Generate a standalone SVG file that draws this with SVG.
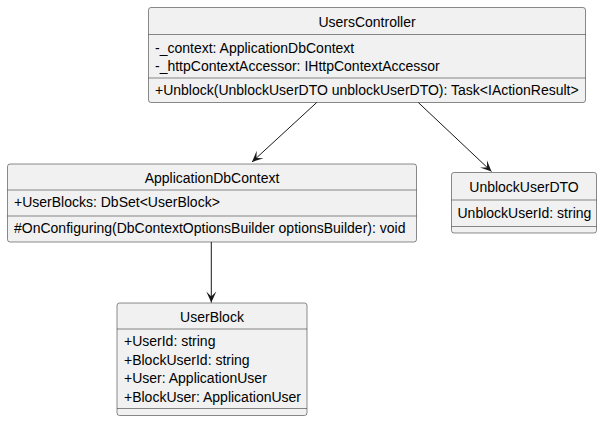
<svg xmlns="http://www.w3.org/2000/svg" width="602" height="422" viewBox="0 0 602 422">
<defs>
<style>
.box{fill:#F1F1F1;stroke:#181818;stroke-width:0.5}
.sep{stroke:#181818;stroke-width:0.5}
.t{font-family:"Liberation Sans",Arial,sans-serif;font-size:14px;fill:#000000}
.c{text-anchor:middle}
.edge{stroke:#181818;stroke-width:1;fill:none}
</style>
<marker id="arr" viewBox="-12 -6 13 12" refX="0" refY="0" markerWidth="13" markerHeight="12" orient="auto" markerUnits="userSpaceOnUse">
<path d="M0,0 L-11,-5 L-6,0 L-11,5 Z" fill="#181818"/>
</marker>
</defs>
<rect width="602" height="422" fill="#FFFFFF"/>
<g id="UsersController">
<rect class="box" x="148.5" y="7.5" width="437" height="95" rx="2.5"/>
<text class="t c" x="367" y="26.5">UsersController</text>
<line class="sep" x1="148.5" y1="34.5" x2="585.5" y2="34.5"/>
<text class="t" x="155" y="52.5">-_context: ApplicationDbContext</text>
<text class="t" x="155" y="71">-_httpContextAccessor: IHttpContextAccessor</text>
<line class="sep" x1="148.5" y1="78" x2="585.5" y2="78"/>
<text class="t" x="155" y="95">+Unblock(UnblockUserDTO unblockUserDTO): Task&lt;IActionResult&gt;</text>
</g>
<g id="ApplicationDbContext">
<rect class="box" x="7.5" y="164" width="409" height="78" rx="2.5"/>
<text class="t c" x="212" y="182.5">ApplicationDbContext</text>
<line class="sep" x1="7.5" y1="190" x2="416.5" y2="190"/>
<text class="t" x="14" y="207">+UserBlocks: DbSet&lt;UserBlock&gt;</text>
<line class="sep" x1="7.5" y1="216" x2="416.5" y2="216"/>
<text class="t" x="14" y="233">#OnConfiguring(DbContextOptionsBuilder optionsBuilder): void</text>
</g>
<g id="UnblockUserDTO">
<rect class="box" x="451.5" y="172.5" width="145" height="60.5" rx="2.5"/>
<text class="t c" x="524" y="191.5">UnblockUserDTO</text>
<line class="sep" x1="451.5" y1="200" x2="596.5" y2="200"/>
<text class="t" x="457.5" y="217.5">UnblockUserId: string</text>
<line class="sep" x1="451.5" y1="226.5" x2="596.5" y2="226.5"/>
</g>
<g id="UserBlock">
<rect class="box" x="117" y="303" width="190" height="112.5" rx="2.5"/>
<text class="t c" x="212" y="322">UserBlock</text>
<line class="sep" x1="117" y1="329" x2="307" y2="329"/>
<text class="t" x="124" y="346">+UserId: string</text>
<text class="t" x="124" y="364.5">+BlockUserId: string</text>
<text class="t" x="124" y="383">+User: ApplicationUser</text>
<text class="t" x="124" y="401.5">+BlockUser: ApplicationUser</text>
<line class="sep" x1="117" y1="408.5" x2="307" y2="408.5"/>
</g>
<g id="connectors">
<line class="edge" x1="316.7" y1="102.5" x2="252" y2="162" marker-end="url(#arr)"/>
<line class="edge" x1="418.3" y1="102.5" x2="491.5" y2="171.5" marker-end="url(#arr)"/>
<line class="edge" x1="211.3" y1="242" x2="211.3" y2="302.5" marker-end="url(#arr)"/>
</g>
</svg>
